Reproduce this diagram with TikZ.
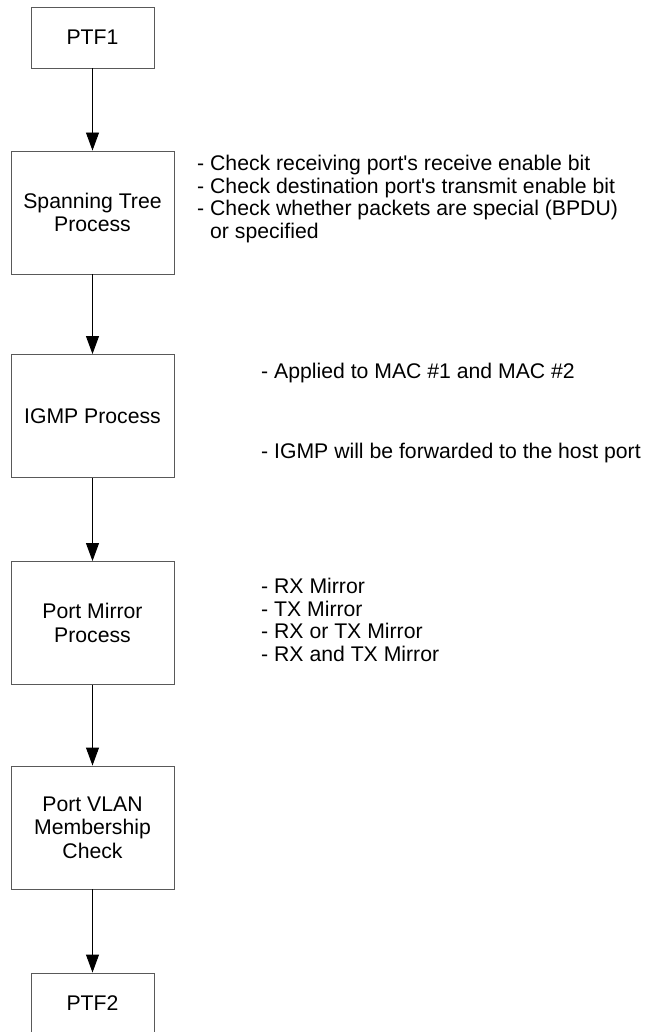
\documentclass[tikz,border=0pt]{standalone}
\usepackage{fontspec}
\setmainfont{Liberation Sans}
\usetikzlibrary{arrows.meta}

\begin{document}
\begin{tikzpicture}[x=0.03cm,y=-0.03cm,
  box/.style={draw=black!65, line width=0.8pt, minimum width=4.89cm, minimum height=3.69cm,
    align=center, inner sep=0pt, font=\fontsize{18.1}{20}\selectfont},
  ptfbox/.style={box, minimum width=3.69cm, minimum height=1.83cm},
  note/.style={anchor=west, align=left, inner sep=0pt, font=\fontsize{18.1}{19.2}\selectfont},
  flow/.style={-{Triangle[width=0.39cm,length=0.54cm]}, line width=0.8pt}]
\useasboundingbox (0,0) rectangle (645,1032);
% process chain
\node[ptfbox] (ptf1) at (92.5,37.5) {PTF1};
\node[box] (stp) at (92.5,212.5) {Spanning Tree\\Process};
\node[box] (igmp) at (92.5,416) {IGMP Process};
\node[box] (mirror) at (92.5,623) {Port Mirror\\Process};
\node[box] (vlan) at (92.5,827.5) {Port VLAN\\Membership\\Check};
\node[ptfbox] (ptf2) at (92.5,1003.5) {PTF2};
% notes
\node[note] (stpnote) at (197,199) {- Check receiving port\textquotesingle s receive enable bit\\
  - Check destination port\textquotesingle s transmit enable bit\\
  - Check whether packets are special (BPDU)\\
  \phantom{- }or specified};
\node[note] (igmpnote1) at (261,373) {- Applied to MAC \#1 and MAC \#2};
\node[note] (igmpnote2) at (261,453) {- IGMP will be forwarded to the host port};
\node[note] (mirrornote) at (261,620) {- RX Mirror\\- TX Mirror\\- RX or TX Mirror\\- RX and TX Mirror};
% arrows
\draw[flow] (ptf1) -- (stp);
\draw[flow] (stp) -- (igmp);
\draw[flow] (igmp) -- (mirror);
\draw[flow] (mirror) -- (vlan);
\draw[flow] (vlan) -- (ptf2);
\end{tikzpicture}
\end{document}
